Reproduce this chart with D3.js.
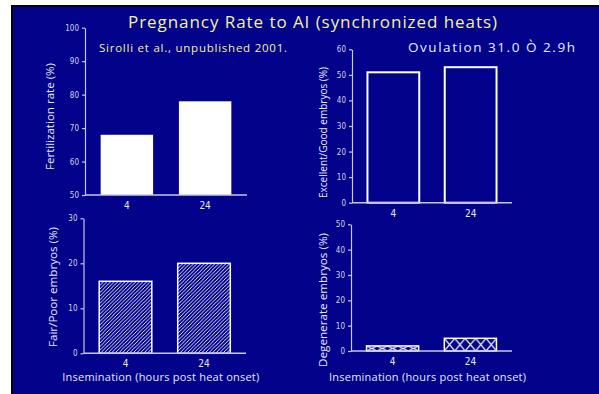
<!DOCTYPE html>
<html>
<head>
<meta charset="utf-8">
<script src="https://cdn.jsdelivr.net/npm/d3@7"></script>
<style>
  body { margin: 0; background: #fff; }
  svg { display: block; }
</style>
</head>
<body>
<div id="chart"></div>
<script>
//***************** data *******************/
var categories = ["4", "24"];          // insemination, hours post heat onset
var fertilization = [68, 78];          // Fertilization rate (%)
var excellentGood = [51, 53];          // Excellent/Good embryos (%)
var fairPoor = [16, 20];               // Fair/Poor embryos (%)
var degenerate = [2, 5];               // Degenerate embryos (%)

var fertTicks = [50, 60, 70, 80, 90, 100];
var goodTicks = [0, 10, 20, 30, 40, 50, 60];
var fairTicks = [0, 10, 20, 30];
var degTicks = [0, 10, 20, 30, 40, 50];

//************* set dimensions ***************/
var W = 599, H = 394;
var navy = "#02028a", axisCol = "#c8c8e6", tickCol = "#d4d4ec", yellow = "#f2f29c";

var svg = d3.select("#chart").append("svg")
    .attr("width", W).attr("height", H);

// slide background with black edge
svg.append("rect").attr("x", 11).attr("y", 5).attr("width", W - 11).attr("height", H - 5).attr("fill", "#000");
svg.append("rect").attr("x", 13).attr("y", 7).attr("width", W - 13).attr("height", H - 7).attr("fill", navy);

var defs = svg.append("defs");
defs.append("pattern")
    .attr("id", "hatch")
    .attr("patternUnits", "userSpaceOnUse")
    .attr("width", 3.6).attr("height", 3.6)
  .append("path")
    .attr("d", "M-1,1 l2,-2 M0,3.6 l3.6,-3.6 M2.6,4.6 l2,-2")
    .attr("stroke", "#fff").attr("stroke-width", 0.9);

//***************** panels *******************/
var panels = [
  {values: fertilization, ticks: fertTicks, domain: [50, 100], label: "Fertilization rate (%)",
   x0: 85, x1: 247, top: 27.7, bottom: 195, labelX: 50, labelY: 116.5, labelLen: 107, style: "solid", xTitle: false},
  {values: excellentGood, ticks: goodTicks, domain: [0, 60], label: "Excellent/Good embryos (%)",
   x0: 352, x1: 512, top: 49.3, bottom: 202.7, labelX: 323, labelY: 132.5, labelLen: 131, style: "open", xTitle: false},
  {values: fairPoor, ticks: fairTicks, domain: [0, 30], label: "Fair/Poor embryos (%)",
   x0: 83.5, x1: 246, top: 218.3, bottom: 353.3, labelX: 53, labelY: 287, labelLen: 120, style: "hatch", xTitle: true},
  {values: degenerate, ticks: degTicks, domain: [0, 50], label: "Degenerate embryos (%)",
   x0: 351, x1: 512, top: 224.3, bottom: 351, labelX: 323, labelY: 300, labelLen: 134, style: "cross", xTitle: true}
];

panels.forEach(function(p, pi) {
  var g = svg.append("g");
  var data = categories.map(function(c, i) { return {cat: c, value: p.values[i]}; });

  var x = d3.scaleBand()
    .domain(categories)
    .range([p.x0, p.x1])
    .paddingInner(0.33)
    .paddingOuter(0.2);

  var y = d3.scaleLinear()
    .domain(p.domain)
    .range([p.bottom, p.top]);

  // bars
  var bars = g.selectAll("rect.bar")
    .data(data)
    .enter()
    .append("rect")
      .attr("class", "bar")
      .attr("x", function(d) { return x(d.cat); })
      .attr("y", function(d) { return y(d.value); })
      .attr("width", x.bandwidth())
      .attr("height", function(d) { return y(p.domain[0]) - y(d.value); });

  if (p.style == "solid") {
    bars.attr("fill", "#fff");
  } else if (p.style == "open") {
    bars.attr("fill", navy).attr("stroke", "#fff").attr("stroke-width", 2);
  } else if (p.style == "hatch") {
    bars.attr("fill", "url(#hatch)").attr("stroke", "#fff").attr("stroke-width", 1.5);
  } else {
    // cross hatch: five X cells per bar, stretched to bar height
    bars.attr("fill", function(d, i) {
      var id = "cross" + pi + "_" + i;
      var cw = x.bandwidth() / 5, ch = y(p.domain[0]) - y(d.value);
      var pat = defs.append("pattern")
        .attr("id", id)
        .attr("patternUnits", "userSpaceOnUse")
        .attr("x", x(d.cat)).attr("y", y(d.value))
        .attr("width", cw).attr("height", ch);
      pat.append("rect").attr("width", cw).attr("height", ch).attr("fill", navy);
      pat.append("path")
        .attr("d", "M0,0L" + cw + "," + ch + "M" + cw + ",0L0," + ch)
        .attr("stroke", "#fff").attr("stroke-width", 1.1);
      return "url(#" + id + ")";
    }).attr("stroke", "#fff").attr("stroke-width", 1.5);
  }

  // y axis
  var yAxis = g.append("g")
    .attr("transform", "translate(" + p.x0 + ",0)")
    .call(d3.axisLeft(y).tickValues(p.ticks).tickSize(3).tickSizeOuter(0).tickPadding(3));
  yAxis.select(".domain").attr("stroke", axisCol).attr("stroke-width", 1.2);
  yAxis.selectAll(".tick line").attr("stroke", axisCol).attr("stroke-width", 1.2);
  yAxis.selectAll(".tick text")
    .attr("fill", tickCol)
    .attr("font-family", "DejaVu Sans Condensed, DejaVu Sans, sans-serif")
    .attr("font-size", "8px");

  // x baseline
  g.append("line")
    .attr("x1", p.x0).attr("x2", p.x1)
    .attr("y1", y(p.domain[0])).attr("y2", y(p.domain[0]))
    .attr("stroke", axisCol).attr("stroke-width", 1.4);

  // category labels
  g.selectAll("text.cat")
    .data(categories)
    .enter()
    .append("text")
      .attr("class", "cat")
      .attr("x", function(d) { return x(d) + x.bandwidth() / 2; })
      .attr("y", y(p.domain[0]) + 14)
      .attr("text-anchor", "middle")
      .attr("fill", "#e8e8f6")
      .attr("font-family", "DejaVu Sans Condensed, DejaVu Sans, sans-serif")
      .attr("font-size", "10px")
      .text(function(d) { return d; });

  // y label
  g.append("text")
    .attr("transform", "translate(" + p.labelX + "," + p.labelY + ") rotate(-90)")
    .attr("text-anchor", "middle")
    .attr("dy", "0.35em")
    .attr("fill", "#e8e8f6")
    .attr("font-family", "Open Sans, sans-serif")
    .attr("font-size", "10.5px")
    .attr("textLength", p.labelLen)
    .attr("lengthAdjust", "spacingAndGlyphs")
    .text(p.label);

  // x title
  if (p.xTitle) {
    g.append("text")
      .attr("x", (p.x0 + p.x1) / 2 - 4)
      .attr("y", 381)
      .attr("text-anchor", "middle")
      .attr("fill", "#e8e8f6")
      .attr("font-family", "Open Sans, sans-serif")
      .attr("font-size", "11px")
      .attr("textLength", 197)
      .attr("lengthAdjust", "spacing")
      .text("Insemination (hours post heat onset)");
  }
});

//***************** titles *******************/
svg.append("text")
  .attr("x", 128).attr("y", 28)
  .attr("fill", yellow)
  .attr("font-family", "Open Sans, sans-serif")
  .attr("font-size", "17px")
  .attr("textLength", 369)
  .attr("lengthAdjust", "spacing")
  .text("Pregnancy Rate to AI (synchronized heats)");

svg.append("text")
  .attr("x", 99).attr("y", 52)
  .attr("fill", yellow)
  .attr("font-family", "Open Sans, sans-serif")
  .attr("font-size", "11.5px")
  .attr("textLength", 188)
  .attr("lengthAdjust", "spacing")
  .text("Sirolli et al., unpublished 2001.");

svg.append("text")
  .attr("x", 408).attr("y", 52)
  .attr("fill", "#ececf8")
  .attr("font-family", "Open Sans, sans-serif")
  .attr("font-size", "13.5px")
  .attr("textLength", 167)
  .attr("lengthAdjust", "spacing")
  .text("Ovulation  31.0 Ò 2.9h");
</script>
</body>
</html>
